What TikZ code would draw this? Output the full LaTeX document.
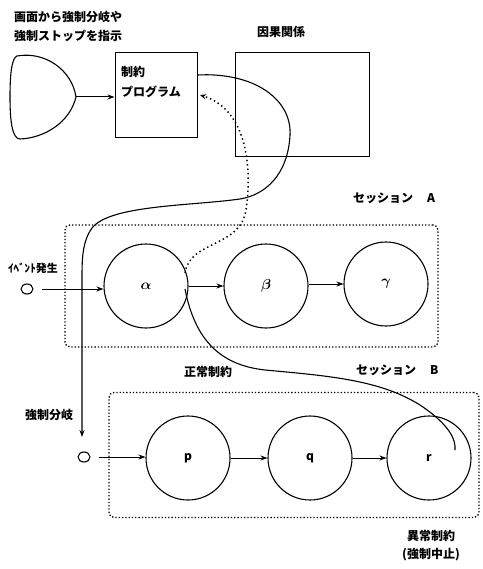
\documentclass[tikz,border=0pt]{standalone}
\usepackage{fontspec}
\usepackage{amsmath}
\newfontfamily\jp{Noto Sans CJK JP}
\usetikzlibrary{arrows.meta,shapes.geometric}
\tikzset{
  box/.style={draw, line width=1pt, inner sep=0pt},
  state/.style={draw, circle, line width=1.1pt, minimum size=84pt, inner sep=0pt, font=\jp\bfseries\fontsize{12}{14}\selectfont},
  sess/.style={draw, line width=1.4pt, dash pattern=on 1.3pt off 2pt, rounded corners=5pt},
  lbl/.style={font=\jp\bfseries\fontsize{12}{14}\selectfont, inner sep=0pt},
  arr/.style={line width=1pt, -{Stealth[length=7pt,width=5pt]}},
  curve/.style={line width=1.1pt},
  dcurve/.style={line width=1.5pt, dash pattern=on 1.4pt off 3pt},
  src/.style={draw, ellipse, line width=1.1pt, minimum width=12pt, minimum height=10pt, inner sep=0pt}
}
\begin{document}
\begin{tikzpicture}[x=1pt,y=-1pt]
\useasboundingbox (0,0) rectangle (482,569);
% top text
\node[lbl, anchor=west, align=left] (inst) at (14,26) {画面から強制分岐や\\[5pt]強制ストップを指示};
% display shape
\draw[line width=1.1pt] (17,56) .. controls (45,51) and (72,70) .. (76,97)
   .. controls (70,122) and (45,138) .. (20,139)
   .. controls (12,139) and (10,120) .. (10,97)
   .. controls (10,72) and (12,58) .. cycle;
\coordinate (disp) at (76,97);
% program box
\node[box, minimum width=82pt, minimum height=85pt] (prog) at (156,95.5) {};
\node[lbl, anchor=north west, align=left] (progt) at (121,66) {制約\\[6pt]プログラム};
% causal box
\node[box, minimum width=134pt, minimum height=104pt] (cause) at (302,105) {};
\node[lbl] (causet) at (281,32) {因果関係};
\draw[arr] (disp) -- (prog.west |- disp);
% session A
\node[sess, minimum width=373pt, minimum height=122pt] (sessA) at (251.5,286) {};
\node[lbl, anchor=west] (sessAt) at (353,198) {セッション\hspace{14pt}A};
\node[state] (alpha) at (146,286) {\fontsize{15}{15}\selectfont$\boldsymbol{\alpha}$};
\node[state] (beta) at (266,286) {\fontsize{15}{15}\selectfont$\boldsymbol{\beta}$};
\node[state] (gamma) at (386,284) {\fontsize{15}{15}\selectfont$\boldsymbol{\gamma}$};
\node[lbl, font=\jp\bfseries\fontsize{11}{13}\selectfont] (evt) at (33,268) {ｲﾍﾞﾝﾄ発生};
\node[src] (srcA) at (27,289) {};
\draw[arr] (srcA.east) ++(8,0) -- (alpha.west |- srcA);
\draw[arr] (alpha.east) -- (beta.west);
\draw[arr] (beta.east |- gamma) -- (gamma.west);
% session B
\node[sess, minimum width=370pt, minimum height=125pt] (sessB) at (294,455) {};
\node[lbl, anchor=west] (sessBt) at (356,370) {セッション\hspace{14pt}B};
\node[state] (p) at (188,458) {p};
\node[state] (q) at (310,458) {q};
\node[state] (r) at (429,458) {r};
\node[src] (srcB) at (84,457) {};
\draw[arr] (srcB.east) ++(8,0) -- (p.west |- srcB);
\draw[arr] (p.east) -- (q.west);
\draw[arr] (q.east) -- (r.west);
\node[lbl] (fb) at (49,415) {強制分岐};
\node[lbl] (norm) at (208,372) {正常制約};
\node[lbl, align=center] (abn) at (431,546) {異常制約\\[4pt](強制中止)};
% solid curve program -> forced branch
\coordinate (fbend) at (82,437);
\draw[curve, -{Stealth[length=7pt,width=5pt]}] (prog.east |- 0,75)
   .. controls (255,72) and (292,100) .. (290,135)
   .. controls (288,175) and (265,195) .. (240,199)
   .. controls (190,206) and (110,205) .. (92,228)
   .. controls (82,242) and (82,260) .. (82,280)
   -- (fbend);
% dotted curve alpha -> program
\draw[dcurve, -{Stealth[length=6pt,width=5pt]}] (185,273)
   .. controls (190,240) and (240,248) .. (246,210)
   .. controls (252,170) and (248,110) .. (200,95);
% solid curve alpha -> r
\coordinate (rend) at (455,450);
\draw[curve] (185,289)
   .. controls (195,340) and (220,365) .. (265,370)
   .. controls (330,376) and (380,380) .. (420,405)
   .. controls (450,425) and (456,440) .. (rend);
\end{tikzpicture}
\end{document}
